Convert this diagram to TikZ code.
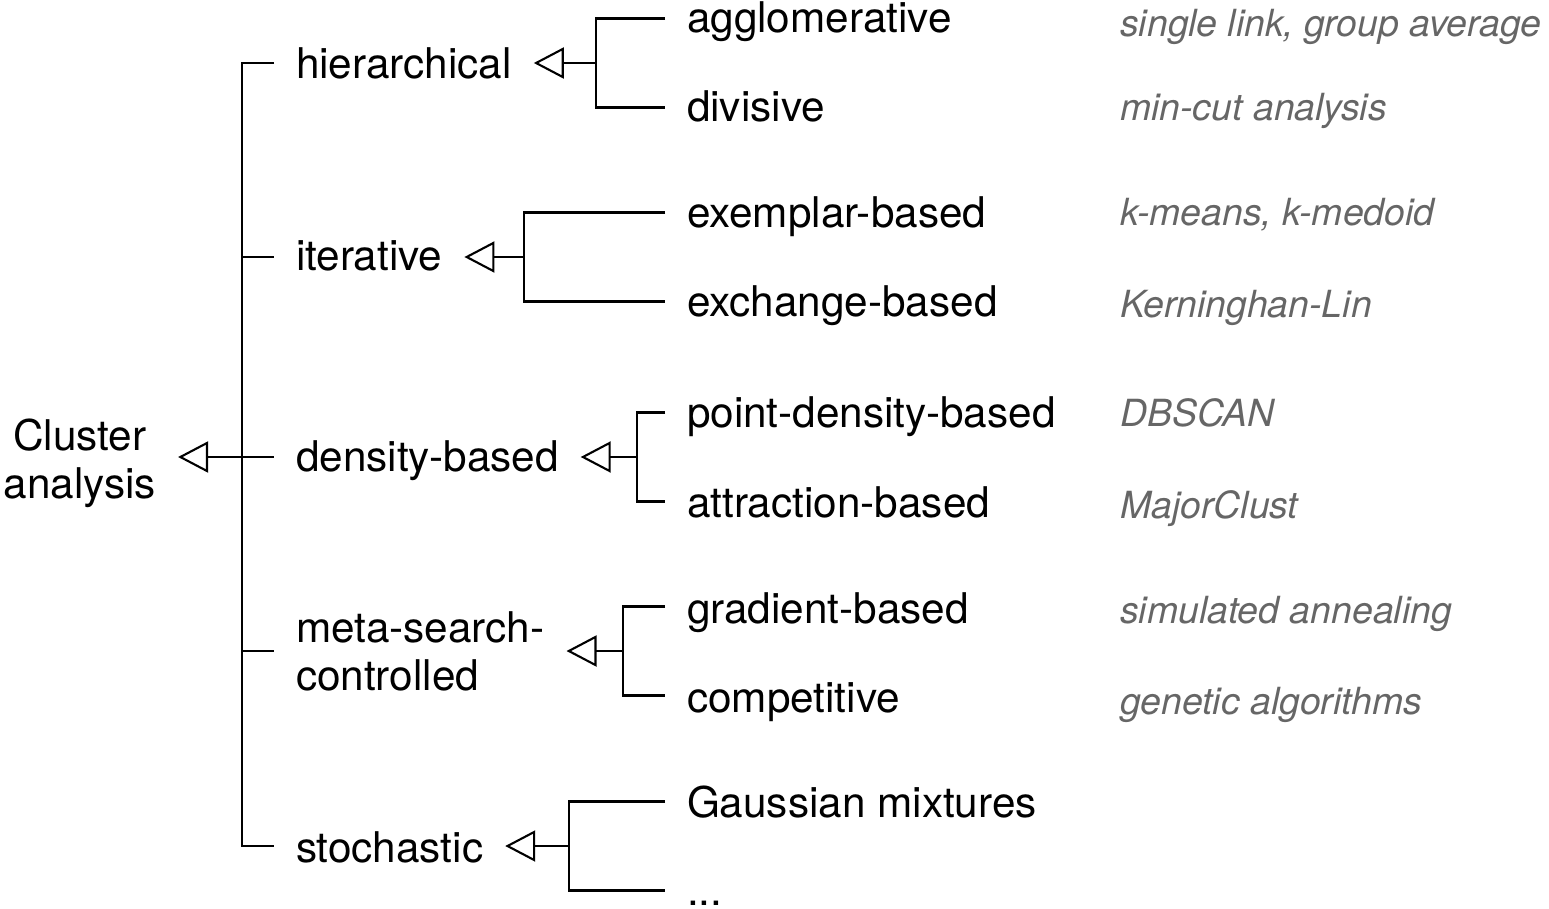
\documentclass[tikz,border=0pt]{standalone}
\usepackage{fontspec}
\setmainfont{TeX Gyre Heros}
\usetikzlibrary{arrows.meta}
\definecolor{notegray}{HTML}{666666}
\begin{document}
\begin{tikzpicture}[x=1pt,y=-1pt,
  wire/.style={line width=2.1pt},
  inherit/.style={wire,-{Triangle[open,length=30pt,width=31pt]}},
  lvl/.style={inner sep=0pt,outer xsep=22pt,anchor=base west,
              font=\fontsize{42.3}{48.5}\selectfont},
  example/.style={inner sep=0pt,anchor=base west,text=notegray,
                  font=\fontsize{37.4}{44}\selectfont\itshape}]
\useasboundingbox (0,0) rectangle (1549,909);

% root
\node[lvl,anchor=base] (root) at (80,450)
  {\begin{tabular}[t]{@{}c@{}}Cluster\\analysis\end{tabular}};

% first level
\node[lvl] (hier)  at (274,79) {hierarchical};
\node[lvl] (iter)  at (274,271) {iterative};
\node[lvl] (dens)  at (274,471) {density-based};
\node[lvl] (meta)  at (274,642)
  {\begin{tabular}[t]{@{}l@{}}meta-search-\\controlled\end{tabular}};
\node[lvl] (stoch) at (274,862) {stochastic};

% second level
\node[lvl] (agg)   at (665,33)    {agglomerative};
\node[lvl] (div)   at (665,121.5) {divisive};
\node[lvl] (exem)  at (665,227.5) {exemplar-based};
\node[lvl] (exch)  at (665,316.5) {exchange-based};
\node[lvl] (point) at (665,427.5) {point-density-based};
\node[lvl] (attr)  at (665,517) {attraction-based};
\node[lvl] (grad)  at (665,623) {gradient-based};
\node[lvl] (comp)  at (665,712) {competitive};
\node[lvl] (gauss) at (665,817) {Gaussian mixtures};
\node[lvl] (more)  at (665,905) {...};

% examples
\node[example] (ex1) at (1120,37)  {single link, group average};
\node[example] (ex2) at (1120,121) {min-cut analysis};
\node[example] (ex3) at (1120,226) {k-means, k-medoid};
\node[example] (ex4) at (1120,317) {Kerninghan-Lin};
\node[example] (ex5) at (1120,426) {DBSCAN};
\node[example] (ex6) at (1120,518) {MajorClust};
\node[example] (ex7) at (1120,623) {simulated annealing};
\node[example] (ex8) at (1120,714) {genetic algorithms};

% trunk
\coordinate (t1) at (242,63);
\coordinate (t2) at (242,257);
\coordinate (t3) at (242,457);
\coordinate (t4) at (242,651);
\coordinate (t5) at (242,846);
\draw[wire] (t1 -| hier.west) -- (t1) -- (t5) -- (t5 -| stoch.west);
\draw[wire] (t2) -- (t2 -| iter.west);
\draw[wire] (t3) -- (t3 -| dens.west);
\draw[wire] (t4) -- (t4 -| meta.west);
\draw[inherit] (t3) -- (t3 -| root.east);

% forks
\coordinate (hj) at (596,63);
\coordinate (h1) at (596,18.5);
\coordinate (h2) at (596,107.5);
\draw[wire] (h1 -| agg.west) -- (h1) -- (h2) -- (h2 -| div.west);
\draw[inherit] (hj) -- (hj -| hier.east);

\coordinate (ij) at (524,257);
\coordinate (i1) at (524,212.5);
\coordinate (i2) at (524,301.5);
\draw[wire] (i1 -| exem.west) -- (i1) -- (i2) -- (i2 -| exch.west);
\draw[inherit] (ij) -- (ij -| iter.east);

\coordinate (dj) at (637,457);
\coordinate (d1) at (637,412.5);
\coordinate (d2) at (637,501.5);
\draw[wire] (d1 -| point.west) -- (d1) -- (d2) -- (d2 -| attr.west);
\draw[inherit] (dj) -- (dj -| dens.east);

\coordinate (mj) at (623,651);
\coordinate (m1) at (623,606.5);
\coordinate (m2) at (623,695.5);
\draw[wire] (m1 -| grad.west) -- (m1) -- (m2) -- (m2 -| comp.west);
\draw[inherit] (mj) -- (mj -| meta.east);

\coordinate (sj) at (569,846);
\coordinate (s1) at (569,801.5);
\coordinate (s2) at (569,890.5);
\draw[wire] (s1 -| gauss.west) -- (s1) -- (s2) -- (s2 -| more.west);
\draw[inherit] (sj) -- (sj -| stoch.east);
\end{tikzpicture}
\end{document}
